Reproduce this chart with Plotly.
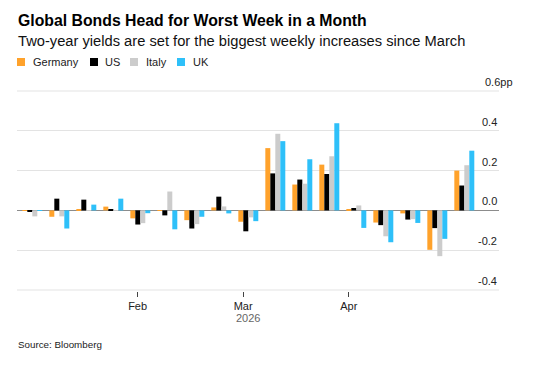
import plotly.graph_objects as go

# Weekly change in two-year yields (percentage points), 17 weeks
weeks = list(range(17))
germany = [-0.003, -0.032, 0.003, 0.019, -0.040, -0.003, -0.049, 0.015, -0.057, 0.313, 0.130, 0.230, 0.003, -0.061, -0.015, -0.198, 0.200]
us      = [-0.005, 0.059, 0.054, 0.007, -0.071, -0.025, -0.091, 0.069, -0.105, 0.186, 0.155, 0.183, 0.012, -0.074, -0.046, -0.089, 0.125]
italy   = [-0.030, -0.030, 0.001, 0.002, -0.064, 0.095, -0.069, 0.020, -0.035, 0.385, 0.134, 0.272, 0.025, -0.130, -0.044, -0.230, 0.227]
uk      = [-0.003, -0.091, 0.029, 0.059, -0.014, -0.095, -0.032, -0.015, -0.054, 0.348, 0.257, 0.438, -0.088, -0.160, -0.063, -0.143, 0.300]

series_names = ["Germany", "US", "Italy", "UK"]
series_colors = ["#FFA22B", "#000000", "#CCCCCC", "#2EC0F9"]

month_tick_pos = [3.9, 7.81, 11.72]
month_tick_text = ["Feb", "Mar", "Apr"]
y_ticks = [-0.4, -0.2, 0.0, 0.2, 0.4, 0.6]
y_tick_text = ["-0.4", "-0.2", "0.0", "0.2", "0.4", "0.6pp"]

FONT = "Liberation Sans, Arial, Helvetica, sans-serif"
W, H = 534, 366
L, R, T, B = 17, 35, 90, 75
PW, PH = W - L - R, H - T - B


def px_x(px):
    return (px - L) / PW


def px_y(py):
    return (H - B - py) / PH


fig = go.Figure()
for name, vals, col in zip(series_names, [germany, us, italy, uk], series_colors):
    fig.add_trace(go.Bar(x=weeks, y=vals, name=name, marker=dict(color=col, line=dict(width=0)),
                         showlegend=False))

fig.update_layout(
    width=W, height=H,
    margin=dict(l=L, r=R, t=T, b=B, pad=0),
    paper_bgcolor="white", plot_bgcolor="white",
    barmode="group", bargap=0.26, bargroupgap=0,
    font=dict(family=FONT, size=11, color="#222"),
    xaxis=dict(range=[-0.567, 17.285], tickmode="array", tickvals=month_tick_pos, ticktext=month_tick_text,
               ticks="outside", ticklen=5, tickcolor="#444", tickwidth=1, showgrid=False, zeroline=False,
               showline=False, tickfont=dict(size=11, color="#222", family=FONT)),
    yaxis=dict(range=[-0.405, 0.605], tickmode="array", tickvals=y_ticks, showticklabels=False,
               showgrid=True, gridcolor="#E3E3E3", gridwidth=1, zeroline=True, zerolinecolor="#8C8C8C",
               zerolinewidth=1, fixedrange=True),
)

ann = []
ann.append(dict(text="<b>Global Bonds Head for Worst Week in a Month</b>", xref="paper", yref="paper",
                x=px_x(16), y=px_y(20), xanchor="left", yanchor="middle", showarrow=False,
                font=dict(size=15.8, color="#000", family=FONT)))
ann.append(dict(text="Two-year yields are set for the biggest weekly increases since March", xref="paper", yref="paper",
                x=px_x(16), y=px_y(41), xanchor="left", yanchor="middle", showarrow=False,
                font=dict(size=14.7, color="#111", family=FONT)))
ann.append(dict(text="Source: Bloomberg", xref="paper", yref="paper",
                x=px_x(16), y=px_y(344), xanchor="left", yanchor="middle", showarrow=False,
                font=dict(size=9.8, color="#222", family=FONT)))
ann.append(dict(text="2026", xref="paper", yref="paper",
                x=px_x(248), y=px_y(317.5), xanchor="center", yanchor="middle", showarrow=False,
                borderpad=0, font=dict(size=11, color="#666", family=FONT)))

for v, t in zip(y_ticks, y_tick_text):
    if t.endswith("pp"):
        ann.append(dict(text=t, xref="paper", yref="y", x=px_x(483), y=v, xanchor="left", yanchor="bottom",
                        showarrow=False, yshift=1, font=dict(size=11, color="#222", family=FONT)))
    else:
        ann.append(dict(text=t, xref="paper", yref="y", x=px_x(499), y=v, xanchor="right", yanchor="bottom",
                        showarrow=False, yshift=1, font=dict(size=11, color="#222", family=FONT)))

shapes = []
# edge gridlines (top and bottom of the value range)
for v in (y_ticks[0], y_ticks[-1]):
    shapes.append(dict(type="line", xref="paper", yref="y", x0=0, x1=1, y0=v, y1=v,
                       line=dict(color="#E3E3E3", width=1), layer="below"))
leg_sq = [17, 90, 130, 177]
leg_tx = [31, 103, 144, 191]
for name, col, sx, tx in zip(series_names, series_colors, leg_sq, leg_tx):
    shapes.append(dict(type="rect", xref="paper", yref="paper", x0=px_x(sx), x1=px_x(sx + 8),
                       y0=px_y(66), y1=px_y(58), fillcolor=col, line=dict(width=0)))
    ann.append(dict(text=name, xref="paper", yref="paper", x=px_x(tx), y=px_y(62), xanchor="left",
                    yanchor="middle", showarrow=False, font=dict(size=11, color="#222", family=FONT)))

fig.update_layout(annotations=ann, shapes=shapes)
fig.write_html("out.html")
